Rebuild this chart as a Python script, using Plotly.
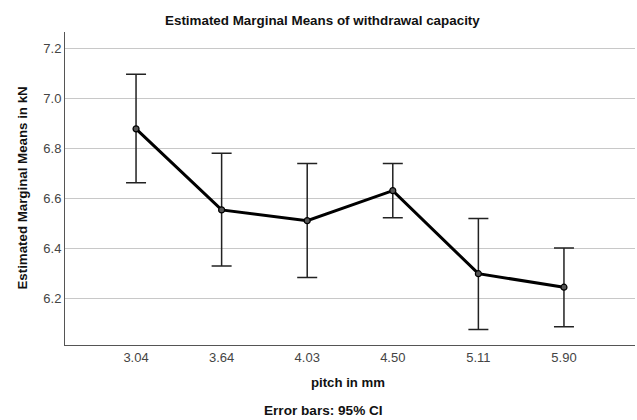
import plotly.graph_objects as go

pitch = ["3.04", "3.64", "4.03", "4.50", "5.11", "5.90"]
means = [6.877, 6.553, 6.510, 6.630, 6.298, 6.244]
ci_upper = [7.095, 6.779, 6.738, 6.738, 6.519, 6.401]
ci_lower = [6.661, 6.329, 6.283, 6.522, 6.075, 6.086]
y_ticks = [6.2, 6.4, 6.6, 6.8, 7.0, 7.2]

err_plus = [u - m for u, m in zip(ci_upper, means)]
err_minus = [m - l for m, l in zip(means, ci_lower)]

FONT = "Liberation Sans, Arial, sans-serif"

fig = go.Figure()
fig.add_trace(go.Scatter(
    x=pitch, y=means, mode="lines+markers",
    line=dict(color="#000000", width=3),
    marker=dict(size=6, color="#555555", line=dict(color="#000000", width=1.2)),
    error_y=dict(type="data", symmetric=False, array=err_plus, arrayminus=err_minus,
                 color="#222222", thickness=1.5, width=10),
    showlegend=False,
))

fig.update_layout(
    width=637, height=420,
    margin=dict(l=65, r=2, t=32, b=75),
    paper_bgcolor="white", plot_bgcolor="white",
    font=dict(family=FONT, size=13, color="#444444"),
    xaxis=dict(type="category", range=[-0.83, 5.83], showline=True, linecolor="#555555",
               linewidth=1, showgrid=False, ticks="", zeroline=False,
               tickfont=dict(size=13, color="#444444")),
    yaxis=dict(range=[6.013, 7.264], tickvals=y_ticks, ticktext=[f"{v:.1f}" for v in y_ticks],
               showline=True, linecolor="#555555", linewidth=1,
               showgrid=True, gridcolor="#c8c8c8", gridwidth=1, ticks="", zeroline=False,
               tickfont=dict(size=13, color="#444444")),
    annotations=[
        dict(text="<b>Estimated Marginal Means of withdrawal capacity</b>", xref="paper", yref="paper",
             x=0.451, y=1.038, showarrow=False, font=dict(size=13.4, color="#111111"),
             xanchor="center", yanchor="middle"),
        dict(text="<b>Estimated Marginal Means in kN</b>", xref="paper", yref="paper",
             x=-0.0754, y=0.5, showarrow=False, textangle=-90, font=dict(size=13.3, color="#111111"),
             xanchor="center", yanchor="middle"),
        dict(text="<b>pitch in mm</b>", xref="paper", yref="paper",
             x=0.496, y=-0.121, showarrow=False, font=dict(size=13.2, color="#111111"),
             xanchor="center", yanchor="middle"),
        dict(text="<b>Error bars: 95% CI</b>", xref="paper", yref="paper",
             x=0.453, y=-0.208, showarrow=False, font=dict(size=13.6, color="#111111"),
             xanchor="center", yanchor="middle"),
    ],
)

fig.write_html("out.html", config={"displayModeBar": False},
               post_script="document.body.style.margin='0';document.body.style.overflow='hidden';")
